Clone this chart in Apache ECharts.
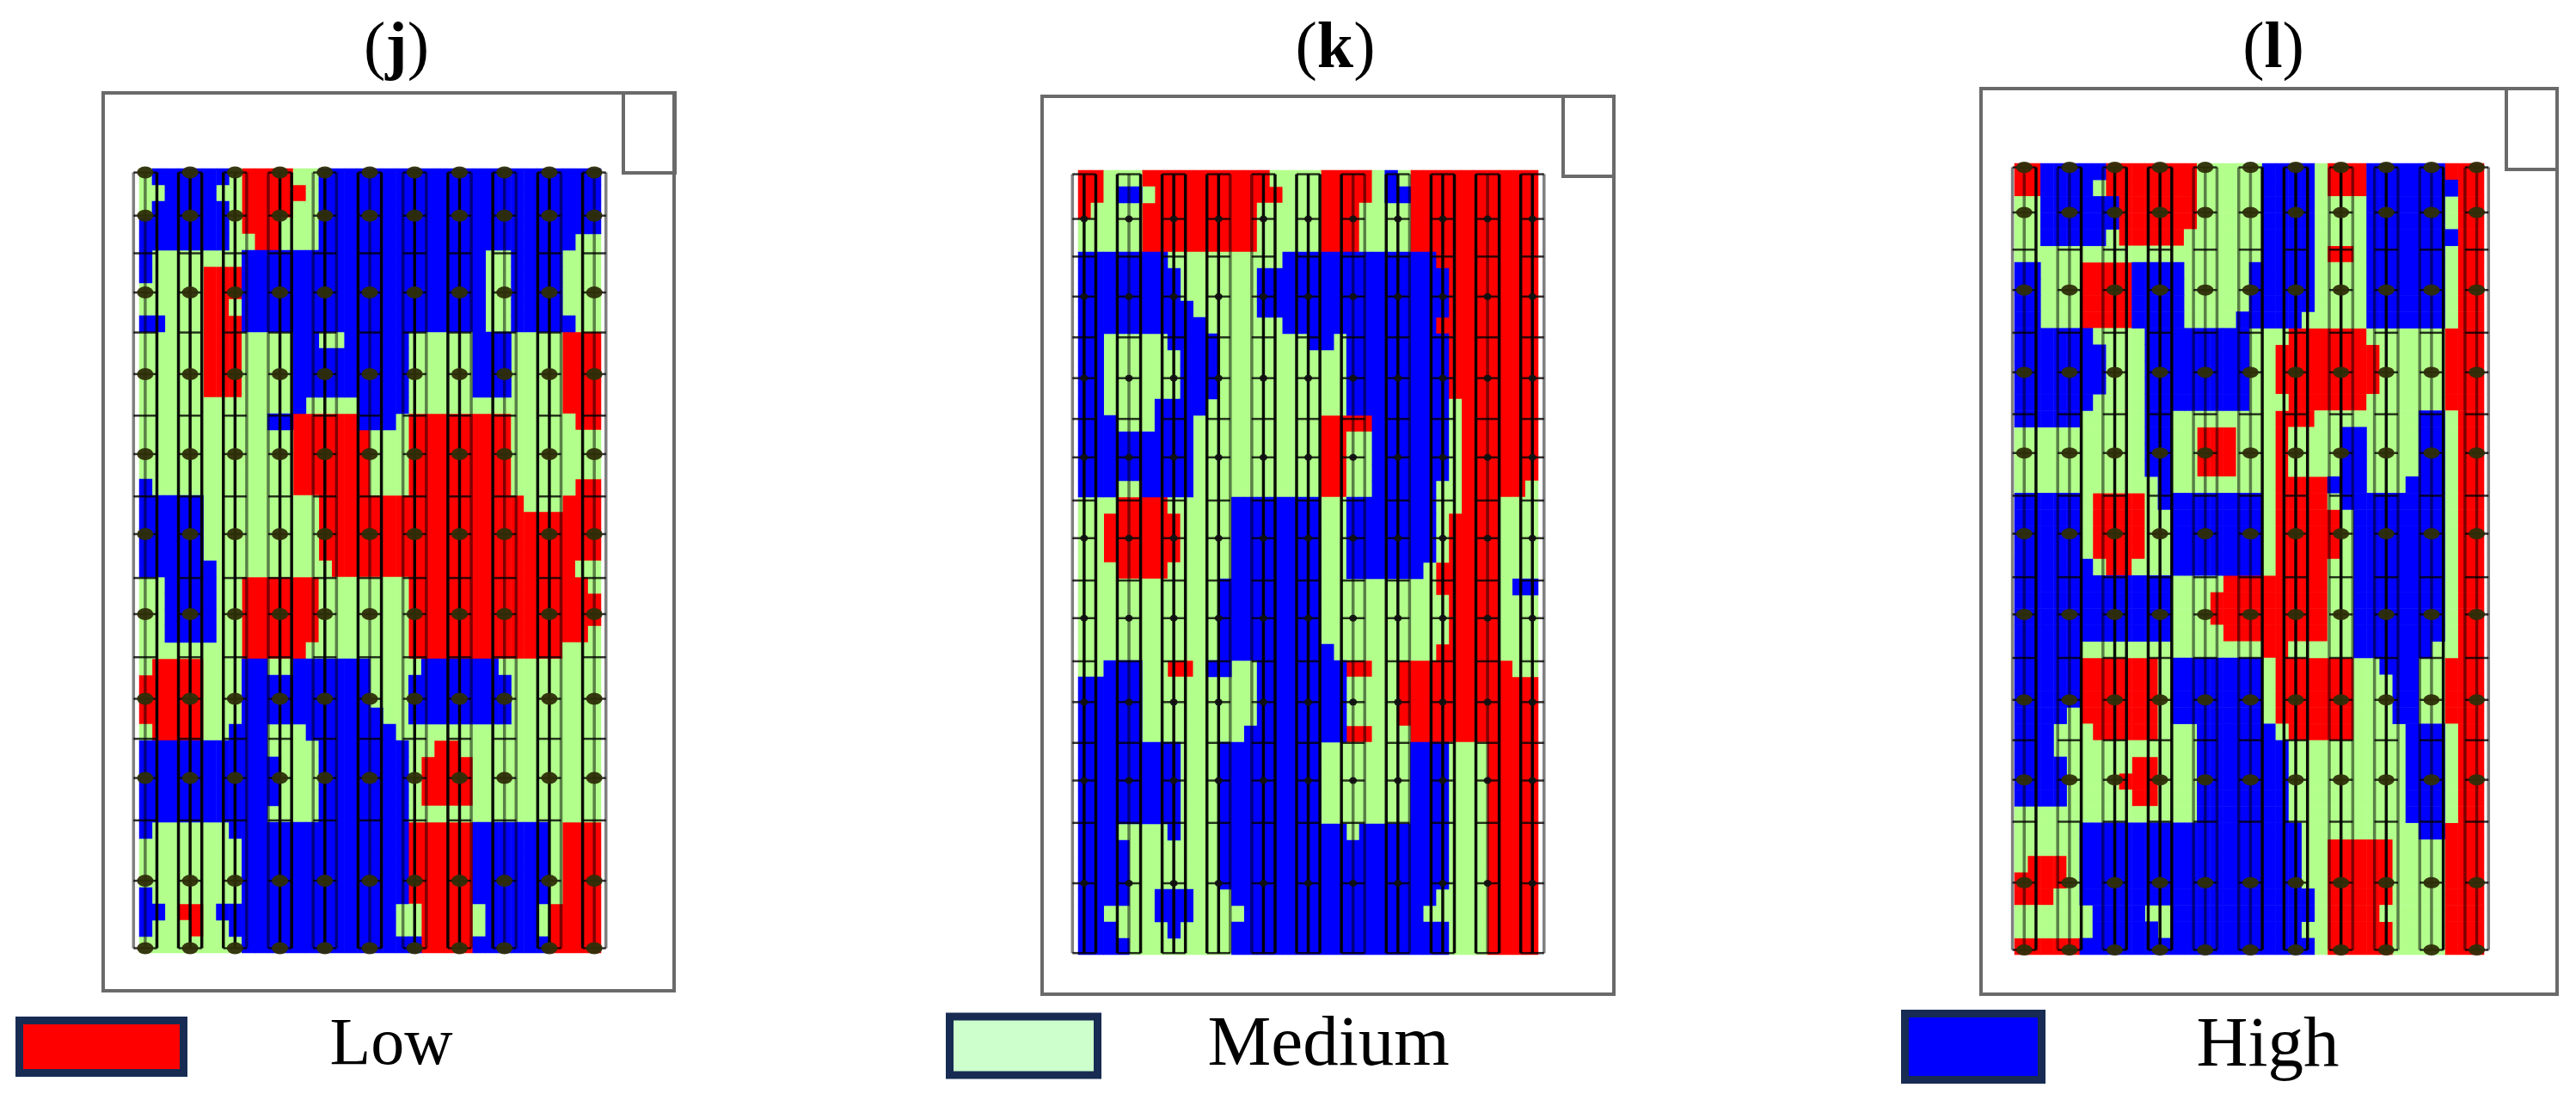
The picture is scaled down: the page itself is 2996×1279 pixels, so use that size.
<!DOCTYPE html>
<html><head><meta charset="utf-8">
<style>html,body{margin:0;padding:0;background:#fff}#c{width:2996px;height:1279px}</style>
<script src="https://cdn.jsdelivr.net/npm/echarts@6/dist/echarts.min.js"></script>
</head><body><div id="c"></div>
<script>
// class maps, one run-length string per row: L = Low, M = Medium, H = High
const rowsJ = [
"M1H6M1L4M2H22","M2H4M2L5M1H22","M1H6M1L4M2H22","H7M1L3M3H22","H7M2L2M3H20M2","H1M7H19M2H4M3",
"H1M4L3H19M2H4M3","M5L3H19M2H4M3","M5L2M1H19M2H4M3","H2M3L3H19M2H5M2","M5L3M4H2M2H5M5H3M4L3","M5L3M4H9M5H3M4L3",
"M5L3M4H9M5H3M4L3","M5L3M4H9M5H3M4L3","M12H1M4H4M12L3","M10H2L5H3M1L8M5L2","M12L6M3L8M7","M12L6M3L8M7",
"M12L6M3L8M7","H1M11L6M3L8M5L2","H5M9L16M3L3","H5M9L22","H5M9L22","H5M9L22",
"H6M9L19M2","M2H4M2L6M7L14M1","M2H4M2L6M7L15","M2H4M2L6M7L15","M2H4M2L6M7L14M1","M8L5M8L12M3",
"M1L4M3H2M2H6M4H6M8","L5M3H10M3H8M7","L5M3H10M3H8M7","L5M3H11M2H8M7","M1L4M2H3M3H7M16","H10M4H7M2L2M11",
"H11M3H7M1L4M10","H11M3H7M1L4M10","H11M3H7M1L4M10","H10M4H7M15","H1M6H14L5H6M1L3","M8H13L5H6M1L3",
"M8H13L5H6M1L3","M8H13L5H6M1L3","H1M7H13L5H6M1L3","H2M1L2M1H14M2L4M1H4M1L4","H1M3L1M2H13M2L4M1H4M1L4","M8H14L4H6L4"];
const rowsK = [
"L2M3L10M4L4M1H1M1L10","L2M1H2M1L10M3L4M1H2L10","L1M4L9M5L3M4L10","M5L9M5L3M4L10","M5L9M5L3M4L10","H7M9H12L8",
"H8M6H15L7","H8M6H15L7","H9M5H15L7","H10M6H12L8","H2M5H4M7H2M1H8L7","H2M6H3M10H8L7",
"H2M6H3M10H8L7","H2M6H3M10H8L7","H2M4H4M11H8M1L6","H3M3H3M10L4H6M1L6","H9M10L2M2H6M1L6","H9M10L2M2H6M1L6",
"H9M10L2M2H6M1L6","H3M2H4M10L2M2H5M2L5M1","M3L4M5H7M2H7M2L3M3","M2L6M4H7M2H7M1L4M3","M2L6M4H7M2H7M1L4M3","M2L6M4H7M2H7M1L4M3",
"M3L4M5H7M2H6M1L5M3","M11H8M9L5M1H2","M11H8M10L4M3","M11H8M10L4M3","M11H8M10L4M3","M11H9M8L5M3",
"M2H3M2L2M1H2M2H7L2M2L9M2","H5M9H7M4L11","H5M9H7M4L11","H5M9H7M4L11","H5M8H8L2M3L10","H8M3H8M7H3M3L4",
"H8M3H8M7H3M3L4","H8M3H8M7H3M3L4","H8M3H8M7H3M3L4","H8M3H8M7H3M3L4","H3M4H1M3H10M1H7M3L4","H4M7H18M3L4",
"H4M7H18M3L4","H4M7H18M3L4","H4M2H3M3H16M4L4","H2M4H3M4H14M5L4","H3M4H1M4H17M3L4","H4M8H17M3L4"];
const rowsL = [
"L2H5L7M5H4M1L3H6L3","L2H4M1L7M5H4M1L3H7L2","M2H6L6M5H4M4H6M1L2","M2H6L6M5H4M4H6M1L2","M2H5M1L5M6H4M4H7L2","M19H4M1L2M1H6M1L2",
"H2M3L4H4M5H5M4H6M1L2","H2M3L4H4M5H5M4H6M1L2","H2M3L4H4M5H5M4H6M1L2","H2M3L4H4M4H5M5H6M1L2","H6M4H8M3L6M6L3","H7M3H8M2L8M5L3",
"H7M3H8M2L8M5L3","H7M3H8M2L8M5L3","H6M4H8M3L6M6L3","H5M5H2M8L3M8H2M1L2","M10H2M2L3M3L1M4H2M4H2M1L2","M10H2M2L3M3L1M4H2M4H2M1L2",
"M10H2M2L3M3L1M4H2M4H2M1L2","M11H1M8L4H3M3H3M1L2","H5M1L4M1H8M1L4M1H8M1L2","H5M1L4M2H7M1L5M1H7M1L2","H5M1L4M2H7M1L5M1H7M1L2","H5M1L4M2H7M1L5M1H7M1L2",
"H6M1L2M3H7M1L4M2H7M1L2","H12M4L8M2H7M1L2","H12M3L9M2H7M1L2","H12M3L9M2H7M1L2","H12M4L8M2H7M1L2","H5M14L2M5H6M2L2",
"H5L6M1H7M1L6M2H3M2L3","H5L6M1H7M1L6M3H2M2L3","H5L6M1H7M1L6M3H2M2L3","H4M1L6M1H7M1L6M3H2M2L3","H3M3L5M3H6M1L5M4H3M1L2","H3M11H7M9H3M1L2",
"H4M5L2M3H7M9H3M1L2","H4M4L3M3H7M9H3M1L2","H4M5L2M3H7M9H3M1L2","M14H7M9H3M1L2","M5H17M9H2L3","M5H17M2L5M4L3",
"M1L3M1H17M2L5M4L3","L4M1H17M2L5M4L3","L3M2H18M1L5M4L3","M6H4M2H11M1L4M5L3","M6H5M1H10M2L5M4L3","L5H18M1L5M4L3"];
const classNames = ["Low","Medium","High"];
const classKeys = ["L","M","H"];
const panelTitles = ["j","k","l"];
// sampling plots: column numbers and row positions (percent of the field's length)
const plotColumns = [1,2,3,4,5,6,7,8,9,10,11];
const pointRowsJ = [0.5,6,15.8,26.2,36.4,46.6,56.8,67.6,77.7,90.8,99.4];
const midRowsJ = [10.8,20.9,31.5,41.8,52.2,62.3,72.7,83.1];
const pointRowsK = [6.2,16.1,26.5,36.6,46.9,57.1,67.8,77.8,90.9];
const midRowsK = [0.5,11,21.3,31.7,42.1,52.3,62.6,73,83.2,99.8];
const pointRowsL = [0.5,6.2,16,26.4,36.6,46.8,57,67.8,77.9,90.9,99.4];
const midRowsL = [10.9,21.4,31.7,42,52.3,62.5,72.9,83.2];

// ---- layout and style ----
const GREEN="#B3FF8C", RED="#FF0000", BLUE="#0000FF", FRAME="#6a6a6a";
const classColors=[RED,GREEN,BLUE];
const panels=[
 {rows:rowsJ,pts:pointRowsJ,mids:midRowsJ,box:[162,196,537,912],xr:[0.868,11.15],frame:[120,108,664,1044],corner:[725,108,60,93],
  titleX:456,sym:[19,14],symColor:"#2e2e08",
  shade:"ggkkkkkkggkkgkgkgkgkgkkgkggkkgkgg"},
 {rows:rowsK,pts:pointRowsK,mids:midRowsK,box:[1254,198,535,912],xr:[0.868,11.13],frame:[1212,112,665,1044],corner:[1818,112,59,93],
  titleX:1548,sym:[9,8],symColor:"#111",
  shade:"gkkkgkkkkkkggkkkkkkggkkgkkkkgkkkg"},
 {rows:rowsL,pts:pointRowsL,mids:midRowsL,box:[2343,190,546,920],xr:[0.786,11.16],frame:[2304,103,670,1053],corner:[2915,103,59,94],
  titleX:2639,sym:[19,13],symColor:"#2e2e08",
  shade:"ggkggkgkkkkkgggggkkkkgkggkgggkggg"}
];
const HALF=0.26;

function decode(rows){
  return rows.map(s=>{let o="";s.replace(/([LMH])(\d+)/g,(m,c,n)=>{o+=c.repeat(+n);return m});return o});
}
const grids=[],xAxes=[],yAxes=[],series=[],titles=[],graphics=[];
panels.forEach((p,i)=>{
  const m=decode(p.rows), nr=m.length, nc=m[0].length;
  grids.push({left:p.box[0],top:p.box[1],width:p.box[2],height:p.box[3],show:false});
  const hide={show:false};
  xAxes.push({type:"category",gridIndex:i,data:[...Array(nc).keys()],axisLabel:hide,axisLine:hide,axisTick:hide,splitLine:hide});
  yAxes.push({type:"category",gridIndex:i,inverse:true,data:[...Array(nr).keys()],axisLabel:hide,axisLine:hide,axisTick:hide,splitLine:hide});
  xAxes.push({type:"value",gridIndex:i,min:p.xr[0],max:p.xr[1],show:false,scale:true,splitLine:hide});
  yAxes.push({type:"value",gridIndex:i,min:0,max:100,inverse:true,show:false,splitLine:hide});
  const xa=2*i, ya=2*i, xb=2*i+1, yb=2*i+1;
  classKeys.forEach((k,ci)=>{
    const d=[];
    m.forEach((row,r)=>{for(let c=0;c<nc;c++) if(row[c]===k) d.push([c,r,ci]);});
    series.push({type:"heatmap",name:classNames[ci],xAxisIndex:xa,yAxisIndex:ya,data:d,itemStyle:{color:classColors[ci]},
      progressive:0,animation:false,silent:true,z:1});
  });
  // plot strips
  const segs=[];
  const top=Math.min(p.pts[0],p.mids[0]), bot=Math.max(p.pts[p.pts.length-1],p.mids[p.mids.length-1]);
  plotColumns.forEach((c,ci)=>{
    [-HALF,0,HALF].forEach((o,j)=>{segs.push([c+o,top,c+o,bot,p.shade[ci*3+j]==="k"?0.95:0.5,3.5]);});
    p.mids.concat(p.pts).forEach(y=>{segs.push([c-HALF,y,c+HALF,y,0.8,2.5]);});
  });
  series.push({type:"custom",xAxisIndex:xb,yAxisIndex:yb,data:segs,clip:false,silent:true,animation:false,z:3,
    renderItem:(params,api)=>{
      const a=api.coord([api.value(0),api.value(1)]),b=api.coord([api.value(2),api.value(3)]);
      return {type:"line",shape:{x1:a[0],y1:a[1],x2:b[0],y2:b[1]},style:{stroke:"#000",lineWidth:api.value(5),opacity:api.value(4)}};
    }});
  const pts=[];
  plotColumns.forEach(c=>p.pts.forEach(y=>pts.push([c,y])));
  series.push({type:"scatter",xAxisIndex:xb,yAxisIndex:yb,data:pts,symbol:"circle",symbolSize:p.sym,itemStyle:{color:p.symColor,opacity:0.95},
    silent:true,animation:false,z:4,clip:false});
  titles.push({text:"{p|(}{b|"+panelTitles[i]+"}{p|)}",left:p.titleX,top:15,textAlign:"center",
    textStyle:{fontWeight:"normal",rich:{p:{fontFamily:"Liberation Serif",fontSize:76,fontWeight:"normal",color:"#000"},b:{fontFamily:"Liberation Serif",fontSize:76,fontWeight:"bold",color:"#000"}}}});
  graphics.push({type:"rect",shape:{x:p.frame[0],y:p.frame[1],width:p.frame[2],height:p.frame[3]},style:{fill:"none",stroke:FRAME,lineWidth:4},z:0,silent:true});
  graphics.push({type:"rect",shape:{x:p.corner[0],y:p.corner[1],width:p.corner[2],height:p.corner[3]},style:{fill:"none",stroke:FRAME,lineWidth:4},z:0,silent:true});
});
const legendBoxes=[
 {name:"Low",left:18,top:1189,w:200,h:70,color:RED,pad:165,fs:78,pb:14},
 {name:"Medium",left:1100,top:1183,w:181,h:77,color:"#CCFFCC",pad:123,fs:83,pb:11},
 {name:"High",left:2211,top:1174,w:168,h:86,color:BLUE,pad:175,fs:83,pb:2}
];
const legends=legendBoxes.map(b=>({
  show:true,selectedMode:false,orient:"horizontal",left:b.left,
  top:b.top+b.h/2-Math.max(b.fs+b.pb,b.h)/2,padding:0,
  itemWidth:b.w-9,itemHeight:b.h-9,
  data:[{name:b.name,icon:"rect"}],
  itemStyle:{color:b.color,borderColor:"#172B53",borderWidth:9},
  textStyle:{fontFamily:"Liberation Serif",fontSize:b.fs,color:"#000",padding:[0,0,b.pb,b.pad]}
}));
const chart=echarts.init(document.getElementById("c"),null,{renderer:"canvas"});
chart.setOption({backgroundColor:"#fff",animation:false,title:titles,grid:grids,xAxis:xAxes,yAxis:yAxes,series:series,legend:legends,graphic:{elements:graphics},tooltip:{show:false}});
</script></body></html>
